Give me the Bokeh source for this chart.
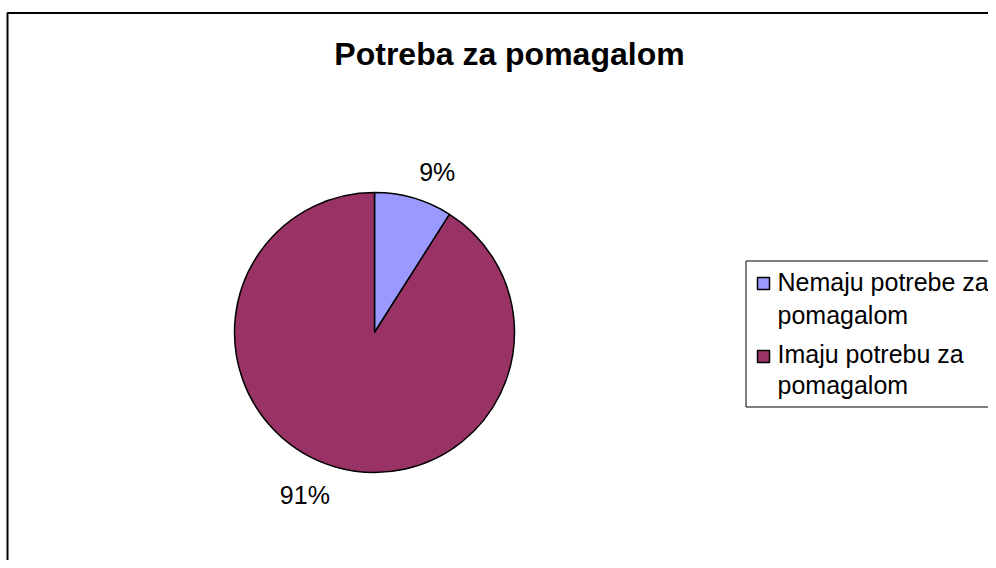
import math
from bokeh.plotting import figure
from bokeh.models import Range1d, BoxAnnotation
from bokeh.core.properties import value
from bokeh.embed import file_html
from bokeh.resources import INLINE

# ---- data ----
title_text = "Potreba za pomagalom"
categories = ["Nemaju potrebe za pomagalom", "Imaju potrebu za pomagalom"]
legend_lines = [["Nemaju potrebe za", "pomagalom"], ["Imaju potrebu za", "pomagalom"]]
percent_values = [9, 91]
colors = ["#9999FF", "#993366"]

W, H = 988, 560
FONT = "Liberation Sans"

def fx(px):  # picture x -> data x
    return px

def fy(py):  # picture y -> data y (y up)
    return H - py

p = figure(width=W, height=H, output_backend="svg", toolbar_location=None,
           x_range=Range1d(0, W), y_range=Range1d(0, H), min_border=0,
           outline_line_color=None, background_fill_color="white",
           border_fill_color="white")
p.axis.visible = False
p.grid.visible = False

# chart border (right / bottom edges fall outside the window, as in the reference)
p.add_layout(BoxAnnotation(left=fx(7), right=W + 50, top=fy(12.5), bottom=-50,
                           fill_color=None, fill_alpha=0, line_color="black",
                           line_alpha=1, line_width=2, level="underlay"))

# ---- legend box ----
p.add_layout(BoxAnnotation(left=fx(745.5), right=W + 50, top=fy(260.5), bottom=fy(406.5),
                           fill_color="white", fill_alpha=1, line_color="black",
                           line_alpha=1, line_width=1, level="underlay"))

# ---- pie ----
cx, cy, r = fx(374), fy(332), 140
total = sum(percent_values)
start = math.pi / 2
starts, ends, mids = [], [], []
for v in percent_values:
    sweep = v / total * 2 * math.pi
    starts.append(start)
    ends.append(start - sweep)
    mids.append(start - sweep / 2)
    start -= sweep

p.wedge(x=[cx] * len(percent_values), y=[cy] * len(percent_values), radius=r,
        start_angle=starts, end_angle=ends, direction="clock",
        fill_color=colors, line_color="black", line_width=1.5)

# percentage labels
lab_r = 160
for v, m in zip(percent_values, mids):
    up = math.sin(m) > 0
    lx = cx + lab_r * math.cos(m)
    ly = cy + lab_r * math.sin(m) + (7 if up else 5)
    p.text(x=[lx], y=[ly], text=[f"{v}%"],
           text_align="left" if math.cos(m) > 0 else "right",
           text_baseline="alphabetic" if up else "top",
           text_font=value(FONT), text_font_size="25px", text_color="black")

# ---- title ----
p.text(x=[fx(509)], y=[fy(53)], text=[title_text], text_align="center",
       text_baseline="alphabetic", text_font=value(FONT), text_font_size="32px",
       text_font_style="bold", text_color="black")

# ---- legend entries ----
baselines = [[281, 314], [353, 384]]
square_y = [283, 356]
sq = 12
for lines, bases, sy, c in zip(legend_lines, baselines, square_y, colors):
    p.rect(x=[fx(763)], y=[fy(sy)], width=sq, height=sq,
           fill_color=c, line_color="black", line_width=1.5)
    for t, b in zip(lines, bases):
        p.text(x=[fx(777)], y=[fy(b)], text=[t],
               text_align="left", text_baseline="alphabetic",
               text_font=value(FONT), text_font_size="25px", text_color="black")

open("out.html", "w").write(file_html(p, INLINE))
